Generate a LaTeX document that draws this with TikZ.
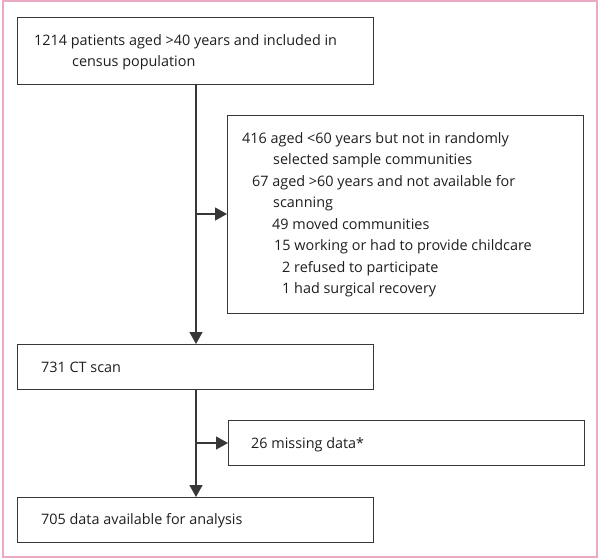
\documentclass[tikz,border=0pt]{standalone}
\usepackage{fontspec}
\setmainfont{Open Sans}
\usetikzlibrary{arrows.meta}
\definecolor{framepink}{RGB}{235,170,195}
\definecolor{linegray}{RGB}{55,55,55}
\definecolor{txtgray}{RGB}{30,30,30}
\begin{document}
\begin{tikzpicture}[x=1pt,y=-1pt,
  boxnode/.style={draw=linegray,line width=1.3pt,rectangle,inner sep=0pt,anchor=north west},
  txt/.style={anchor=base west,inner sep=0pt,text=txtgray,font=\fontsize{14.4}{17}\selectfont},
  conn/.style={draw=linegray,line width=1.3pt},
  arr/.style={conn,-{Triangle[length=12pt,width=13pt]}}]
\useasboundingbox (0,0) rectangle (600,558);
\draw[framepink,line width=2pt] (2.5,1) rectangle (597,557);
% boxes
\node[boxnode,minimum width=356pt,minimum height=67pt] (b1) at (17,17) {};
\node[boxnode,minimum width=356pt,minimum height=198pt] (ex1) at (227,115) {};
\node[boxnode,minimum width=356pt,minimum height=45pt] (b2) at (17,344) {};
\node[boxnode,minimum width=356pt,minimum height=45pt] (ex2) at (228,420) {};
\node[boxnode,minimum width=356pt,minimum height=45pt] (b3) at (17,497) {};
% texts
\node[txt] (t1a) at (34,45) {1214 patients aged >40 years and included in};
\node[txt] (t1b) at (72,66) {census population};
\node[txt] (e1) at (242,143) {416 aged <60 years but not in randomly};
\node[txt] (e2) at (273,164) {selected sample communities};
\node[txt] (e3) at (252,186) {67 aged >60 years and not available for};
\node[txt] (e4) at (273,207) {scanning};
\node[txt] (e5) at (272,229) {49 moved communities};
\node[txt] (e6) at (274,250) {15 working or had to provide childcare};
\node[txt] (e7) at (282,272) {2 refused to participate};
\node[txt] (e8) at (282,293) {1 had surgical recovery};
\node[txt] (t2) at (41,372) {731 CT scan};
\node[txt] (t3) at (251,448) {26 missing data*};
\node[txt] (t4) at (41,524) {705 data available for analysis};
% connectors
\coordinate (j1) at (196,214);
\coordinate (j2) at (196,443);
\draw[arr] (b1.south -| j1) -- (b2.north -| j1);
\draw[arr] (j1) -- (j1 -| ex1.west);
\draw[arr] (b2.south -| j2) -- (b3.north -| j2);
\draw[arr] (j2) -- (j2 -| ex2.west);
\end{tikzpicture}
\end{document}
